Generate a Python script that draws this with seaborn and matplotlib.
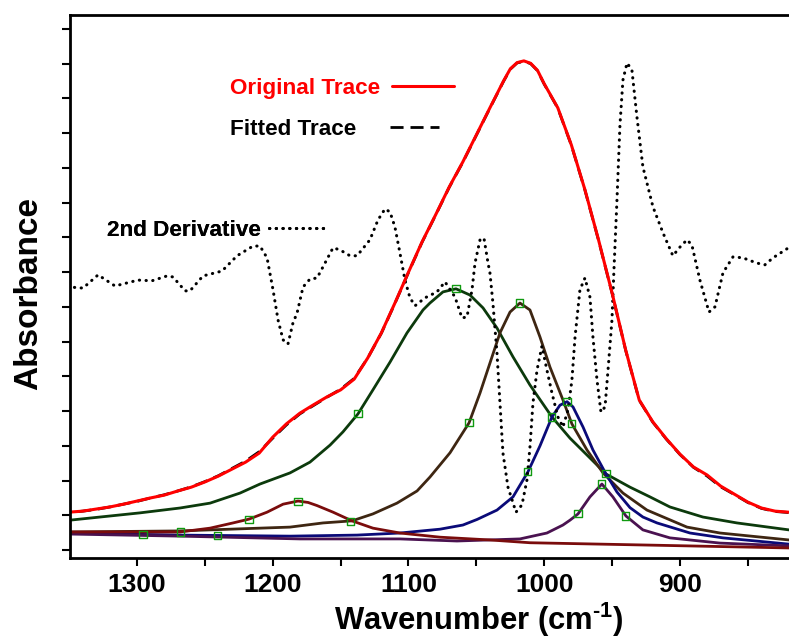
import matplotlib
matplotlib.use("Agg")
import matplotlib.pyplot as plt
import seaborn as sns

# values (wavenumber in cm-1, absorbance in arbitrary units)
trace_wn = [1350, 1340, 1330, 1320, 1310, 1300, 1290, 1280, 1270, 1260, 1250, 1240, 1230, 1220,
            1210, 1200, 1190, 1180, 1170, 1160, 1150, 1140, 1130, 1120, 1110, 1100, 1090, 1080,
            1070, 1060, 1050, 1040, 1030, 1025, 1020, 1015, 1010, 1005, 1000, 990, 980, 970, 960,
            950, 940, 930, 920, 910, 900, 890, 880, 870, 860, 850, 840, 830, 820]
original_abs = [0.109, 0.112, 0.118, 0.124, 0.132, 0.141, 0.150, 0.158, 0.170, 0.181, 0.196, 0.213,
                0.233, 0.253, 0.279, 0.325, 0.363, 0.394, 0.418, 0.441, 0.461, 0.492, 0.553, 0.625,
                0.711, 0.800, 0.887, 0.965, 1.045, 1.117, 1.195, 1.273, 1.350, 1.385, 1.403, 1.408,
                1.401, 1.381, 1.342, 1.273, 1.166, 1.037, 0.893, 0.740, 0.576, 0.432, 0.369, 0.320,
                0.276, 0.239, 0.216, 0.184, 0.161, 0.138, 0.121, 0.112, 0.109]
fitted_abs = [0.108, 0.112, 0.117, 0.124, 0.132, 0.140, 0.150, 0.159, 0.170, 0.182, 0.197, 0.214,
              0.235, 0.256, 0.283, 0.322, 0.360, 0.392, 0.416, 0.440, 0.463, 0.494, 0.553, 0.624,
              0.710, 0.799, 0.886, 0.964, 1.044, 1.116, 1.194, 1.272, 1.349, 1.384, 1.402, 1.407,
              1.400, 1.380, 1.341, 1.272, 1.165, 1.036, 0.892, 0.739, 0.575, 0.431, 0.368, 0.319,
              0.275, 0.238, 0.213, 0.182, 0.160, 0.137, 0.120, 0.111, 0.108]

deriv_wn = [1349.4, 1339.8, 1328.7, 1316.2, 1299.3, 1289.0, 1277.9, 1273.5, 1264.6, 1261.0,
            1251.4, 1237.4, 1226.3, 1214.5, 1209.4, 1204.2, 1199.8, 1196.1, 1192.4, 1188.8,
            1185.1, 1182.1, 1177.7, 1172.6, 1167.4, 1163.0, 1155.6, 1150.5, 1143.1, 1137.9,
            1128.4, 1122.5, 1117.3, 1113.6, 1110.0, 1106.3, 1102.6, 1098.9, 1095.2, 1087.8,
            1079.0, 1073.1, 1065.7, 1060.6, 1056.9, 1053.2, 1051.0, 1047.3, 1044.4, 1041.4,
            1040.0, 1037.8, 1034.8, 1032.6, 1030.4, 1026.7, 1020.8, 1016.4, 1012.7, 1010.5,
            1008.3, 1005.3, 1001.7, 998.0, 994.3, 989.9, 986.2, 982.5, 979.6, 977.3,
            973.7, 970.0, 966.3, 964.1, 961.1, 958.2, 955.2, 953.0, 950.1, 948.7,
            946.4, 944.2, 942.0, 939.0, 935.4, 931.7, 927.3, 919.9, 912.5, 905.2,
            900.0, 894.8, 891.2, 885.3, 878.6, 874.2, 868.3, 860.9, 853.6, 843.3,
            837.4, 831.5, 821.2]
deriv_abs = [0.757, 0.754, 0.792, 0.760, 0.777, 0.775, 0.789, 0.786, 0.746, 0.746,
             0.789, 0.803, 0.847, 0.875, 0.875, 0.841, 0.749, 0.662, 0.605, 0.593,
             0.654, 0.682, 0.757, 0.780, 0.783, 0.815, 0.870, 0.864, 0.847, 0.847,
             0.893, 0.950, 0.982, 0.973, 0.930, 0.855, 0.777, 0.726, 0.703, 0.726,
             0.743, 0.772, 0.728, 0.668, 0.671, 0.749, 0.826, 0.893, 0.898, 0.826,
             0.798, 0.711, 0.567, 0.423, 0.279, 0.181, 0.109, 0.130, 0.202, 0.297,
             0.423, 0.518, 0.587, 0.518, 0.452, 0.383, 0.354, 0.403, 0.489, 0.613,
             0.749, 0.783, 0.728, 0.613, 0.489, 0.397, 0.412, 0.518, 0.662, 0.800,
             1.008, 1.224, 1.353, 1.402, 1.382, 1.247, 1.103, 0.988, 0.913, 0.847,
             0.872, 0.893, 0.878, 0.777, 0.685, 0.700, 0.798, 0.844, 0.841, 0.826,
             0.821, 0.841, 0.867]

# fitted component bands
band1065_wn = [1349.4, 1327.3, 1297.8, 1268.3, 1246.2, 1224.1, 1209.4, 1187.3, 1172.6, 1157.8,
               1148.3, 1137.2, 1126.2, 1113.6, 1101.1, 1089.3, 1084.2, 1074.6, 1065.0, 1054.7,
               1045.1, 1034.8, 1023.0, 1010.5, 994.3, 981.0, 966.3, 954.5, 936.8, 922.1,
               907.4, 883.1, 858.0, 819.7]
band1065_abs = [0.086, 0.095, 0.107, 0.121, 0.135, 0.164, 0.190, 0.222, 0.253, 0.302,
                0.340, 0.392, 0.461, 0.541, 0.625, 0.691, 0.711, 0.743, 0.752, 0.734,
                0.697, 0.639, 0.556, 0.475, 0.383, 0.322, 0.265, 0.219, 0.181, 0.153,
                0.124, 0.095, 0.078, 0.058]

band1018_wn = [1349.4, 1268.3, 1209.4, 1187.3, 1163.0, 1141.6, 1126.2, 1108.5, 1093.7, 1084.2,
               1069.4, 1055.4, 1047.3, 1040.0, 1032.6, 1025.2, 1017.9, 1010.5, 1003.1, 995.8,
               986.2, 979.6, 968.5, 956.7, 942.0, 924.3, 894.8, 870.5, 819.7]
band1018_abs = [0.052, 0.055, 0.063, 0.066, 0.078, 0.084, 0.104, 0.135, 0.170, 0.210,
                0.280, 0.366, 0.452, 0.538, 0.625, 0.685, 0.711, 0.691, 0.613, 0.527,
                0.432, 0.363, 0.288, 0.222, 0.164, 0.115, 0.066, 0.049, 0.029]

band983_wn = [1349.4, 1268.3, 1187.3, 1137.9, 1106.3, 1076.8, 1059.9, 1049.5, 1034.8, 1023.0,
              1012.0, 1003.1, 994.3, 988.4, 983.2, 978.8, 971.4, 964.1, 954.5, 946.4,
              936.8, 927.3, 916.9, 892.6, 868.3, 819.7]
band983_abs = [0.049, 0.043, 0.040, 0.043, 0.049, 0.060, 0.072, 0.088, 0.115, 0.153,
               0.225, 0.300, 0.383, 0.417, 0.427, 0.412, 0.354, 0.288, 0.219, 0.167,
               0.122, 0.095, 0.078, 0.049, 0.035, 0.017]

band958_wn = [1349.4, 1268.3, 1180.0, 1106.3, 1064.3, 1017.9, 998.0, 986.2, 981.0, 975.1,
              966.3, 957.5, 949.4, 939.8, 927.3, 907.4, 870.5, 819.7]
band958_abs = [0.046, 0.040, 0.032, 0.032, 0.026, 0.032, 0.049, 0.072, 0.086, 0.104,
               0.153, 0.190, 0.153, 0.098, 0.058, 0.035, 0.020, 0.012]

band1181_wn = [1349.4, 1268.3, 1246.2, 1229.3, 1217.5, 1204.2, 1192.4, 1181.4, 1174.0, 1167.4,
               1155.6, 1141.6, 1126.2, 1106.3, 1076.8, 1040.0, 1010.5, 919.9, 819.7]
band1181_abs = [0.052, 0.052, 0.063, 0.078, 0.089, 0.109, 0.132, 0.141, 0.137, 0.128,
                0.109, 0.084, 0.063, 0.049, 0.037, 0.029, 0.021, 0.014, 0.006]

marker_wn = [1137.2, 1065.0, 994.3, 1055.4, 1017.9, 979.6, 1012.0, 983.2, 954.5,
             975.1, 957.5, 939.8, 1217.5, 1181.4, 1142.4, 1295.6, 1268.3, 1241.0]
marker_abs = [0.392, 0.752, 0.383, 0.366, 0.711, 0.363, 0.225, 0.427, 0.219,
              0.104, 0.190, 0.098, 0.089, 0.141, 0.081, 0.046, 0.052, 0.043]

sns.set_style("ticks")
plt.rcParams['font.family'] = ['Liberation Sans', 'DejaVu Sans']
plt.rcParams['font.weight'] = 'bold'
plt.rcParams['mathtext.fontset'] = 'custom'
plt.rcParams['mathtext.rm'] = 'Liberation Sans:bold'
plt.rcParams['mathtext.default'] = 'rm'
for key in ['axes.edgecolor', 'xtick.color', 'ytick.color', 'text.color', 'axes.labelcolor']:
    plt.rcParams[key] = 'black'

fig = plt.figure(figsize=(7.89, 6.42), dpi=100)
ax = fig.add_axes([0.0887, 0.1308, 0.92, 0.8458])

bands = [(band1065_wn, band1065_abs, '#0c3a0c'),
         (band1018_wn, band1018_abs, '#3e2612'),
         (band983_wn, band983_abs, '#0a0a78'),
         (band958_wn, band958_abs, '#4a1250'),
         (band1181_wn, band1181_abs, '#7a0c0c')]
for wn, ab, col in bands:
    sns.lineplot(x=wn, y=ab, color=col, lw=2, ax=ax)

sns.scatterplot(x=marker_wn, y=marker_abs, marker='s', s=26, facecolor='none',
                edgecolor='#109a10', linewidth=1, ax=ax, zorder=4)

sns.lineplot(x=deriv_wn, y=deriv_abs, color='black', lw=2.2, ax=ax,
             linestyle=(0, (0.1, 2.1)), dash_capstyle='round')
h_deriv = ax.lines[-1]
sns.lineplot(x=trace_wn, y=fitted_abs, color='black', lw=2, ax=ax, linestyle=(0, (4.7, 2.5)))
h_fit = ax.lines[-1]
sns.lineplot(x=trace_wn, y=original_abs, color='red', lw=2.2, ax=ax)
h_orig = ax.lines[-1]

# text-then-line labels, one small legend each
key_font = dict(weight='bold', size=16.2)
keys = [(h_orig, 'Original Trace', (0.22, 0.884), 2.75, 0.53),
        (h_fit, 'Fitted Trace', (0.22, 0.808), 2.2, 1.5),
        (h_deriv, '2nd Derivative', (0.051, 0.6225), 2.67, 0.36)]
for handle, text, anchor, hlen, pad in keys:
    leg = ax.legend([handle], [text], loc='upper left', bbox_to_anchor=anchor,
                    frameon=False, markerfirst=False, labelcolor='linecolor', prop=key_font,
                    handlelength=hlen, handletextpad=pad, borderpad=0, borderaxespad=0)
    ax.add_artist(leg)

ax.set_xlim(1349.4, 814.6)
ax.set_ylim(-0.023, 1.540)
ax.set_xticks([1300, 1200, 1100, 1000, 900])
ax.set_xticks([1250, 1150, 1050, 950, 850], minor=True)
ax.set_yticks([i / 10 for i in range(16)])
ax.tick_params(axis='x', which='both', direction='out', length=6, width=1.5,
               labelsize=19, pad=5)
ax.tick_params(axis='y', direction='out', length=6, width=1.5, labelleft=False)
for side in ['left', 'top', 'bottom']:
    ax.spines[side].set_linewidth(2)
ax.spines['right'].set_visible(False)

ax.set_xlabel(r'Wavenumber (cm$^{\text{-}1}$)', fontsize=22.3, fontweight='bold')
ax.set_ylabel('Absorbance', fontsize=24, fontweight='bold')
ax.xaxis.set_label_coords(0.563, -0.078)
ax.yaxis.set_label_coords(-0.036, 0.488)

fig.savefig('out.png', dpi=100)
